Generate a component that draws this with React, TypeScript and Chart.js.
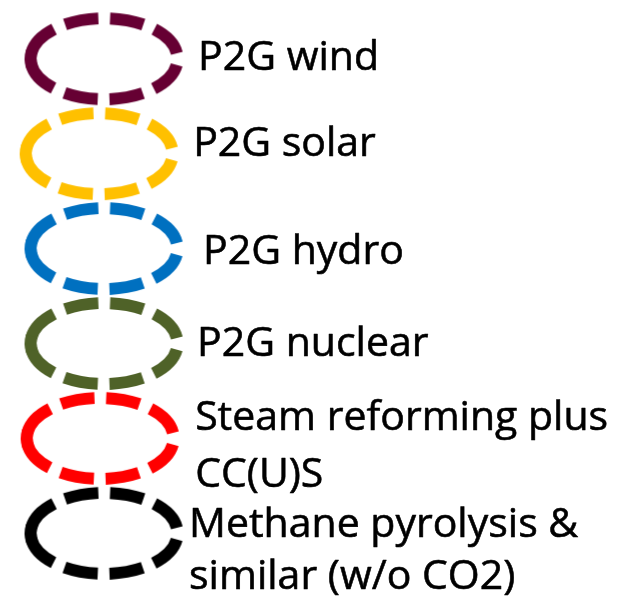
import React, { useEffect, useRef } from "react";
import { Chart, registerables } from "chart.js";

Chart.register(...registerables);

// ---- data ----
const categories = [
  "P2G wind",
  "P2G solar",
  "P2G hydro",
  "P2G nuclear",
  "Steam reforming plus CC(U)S",
  "Methane pyrolysis & similar (w/o CO2)",
];
const labelLines: string[][] = [
  ["P2G wind"],
  ["P2G solar"],
  ["P2G hydro"],
  ["P2G nuclear"],
  ["Steam reforming plus", "CC(U)S"],
  ["Methane pyrolysis &", "similar (w/o CO2)"],
];
const xValues = [1, 0.95, 1, 1, 0.96, 1];
const yValues = [0, 1, 2, 3, 4, 5];
const colors = ["#660033", "#FFC000", "#0070C0", "#4F6228", "#FF0000", "#000000"];

// ---- layout / style constants ----
const labelOffsets: [number, number][] = [
  [94, 11],
  [94, 2],
  [99, 15],
  [93, 13],
  [95, -8],
  [85, 4],
];
const lineHeights = [0, 0, 0, 0, 57, 52];
const ELL_RX = 73.5;
const ELL_RY = 40.5;
const ELL_LW = 12;

function makeEllipse(color: string): HTMLCanvasElement {
  const c = document.createElement("canvas");
  const w = Math.ceil(2 * (ELL_RX + ELL_LW / 2) + 6);
  const h = Math.ceil(2 * (ELL_RY + ELL_LW / 2) + 6);
  c.width = w;
  c.height = h;
  const ctx = c.getContext("2d")!;
  const cx = w / 2;
  const cy = h / 2;
  const a = ELL_RX;
  const b = ELL_RY;
  const P = Math.PI * (3 * (a + b) - Math.sqrt((3 * a + b) * (a + 3 * b)));
  const p = P / 8;
  const g = p * 0.26;
  const d = p - g;
  ctx.strokeStyle = color;
  ctx.lineWidth = ELL_LW;
  ctx.lineCap = "butt";
  ctx.setLineDash([d, g]);
  ctx.lineDashOffset = -g / 2;
  ctx.beginPath();
  ctx.ellipse(cx, cy, a, b, 0, Math.PI, 3 * Math.PI, false);
  ctx.stroke();
  // close the seam at the left point
  ctx.setLineDash([]);
  const delta = (g / 2 + 1.5) / b;
  ctx.beginPath();
  ctx.ellipse(cx, cy, a, b, 0, Math.PI - delta, Math.PI + delta, false);
  ctx.stroke();
  return c;
}

const labelPlugin = {
  id: "ellipseLabels",
  afterDatasetsDraw(chart: any) {
    const meta = chart.getDatasetMeta(0);
    const ctx = chart.ctx as CanvasRenderingContext2D;
    ctx.save();
    ctx.fillStyle = "#000000";
    ctx.strokeStyle = "#000000";
    ctx.lineWidth = 0.6;
    ctx.lineJoin = "round";
    ctx.font = "41px 'Open Sans'";
    ctx.textAlign = "left";
    ctx.textBaseline = "alphabetic";
    meta.data.forEach((el: any, i: number) => {
      const [dx, dy] = labelOffsets[i];
      labelLines[i].forEach((line, j) => {
        const tx = el.x + dx;
        const ty = el.y + dy + j * lineHeights[i];
        ctx.fillText(line, tx, ty);
        ctx.strokeText(line, tx, ty);
      });
    });
    ctx.restore();
  },
};

export default function App() {
  const ref = useRef<HTMLCanvasElement | null>(null);

  useEffect(() => {
    if (!ref.current) return;
    const images = colors.map(makeEllipse);
    const chart = new Chart(ref.current, {
      type: "scatter",
      data: {
        labels: categories,
        datasets: [
          {
            label: "Legend",
            data: yValues.map((y, i) => ({ x: xValues[i], y })),
            pointStyle: ((ctx: any) => images[ctx.dataIndex]) as any,
            pointRadius: 5,
            clip: false as any,
          },
        ],
      },
      options: {
        responsive: true,
        maintainAspectRatio: false,
        animation: false,
        events: [],
        layout: { padding: 0 },
        plugins: {
          legend: { display: false },
          tooltip: { enabled: false },
          title: { display: false },
        },
        scales: {
          x: { type: "linear", display: false, min: 0, max: 6.19 },
          y: { type: "linear", display: false, reverse: true, min: -0.556, max: 5.735 },
        },
      },
      plugins: [labelPlugin],
    });
    return () => chart.destroy();
  }, []);

  return (
    <div
      style={{
        position: "fixed",
        left: 0,
        top: 0,
        width: 619,
        height: 609,
        background: "#ffffff",
      }}
    >
      <canvas ref={ref} />
    </div>
  );
}
